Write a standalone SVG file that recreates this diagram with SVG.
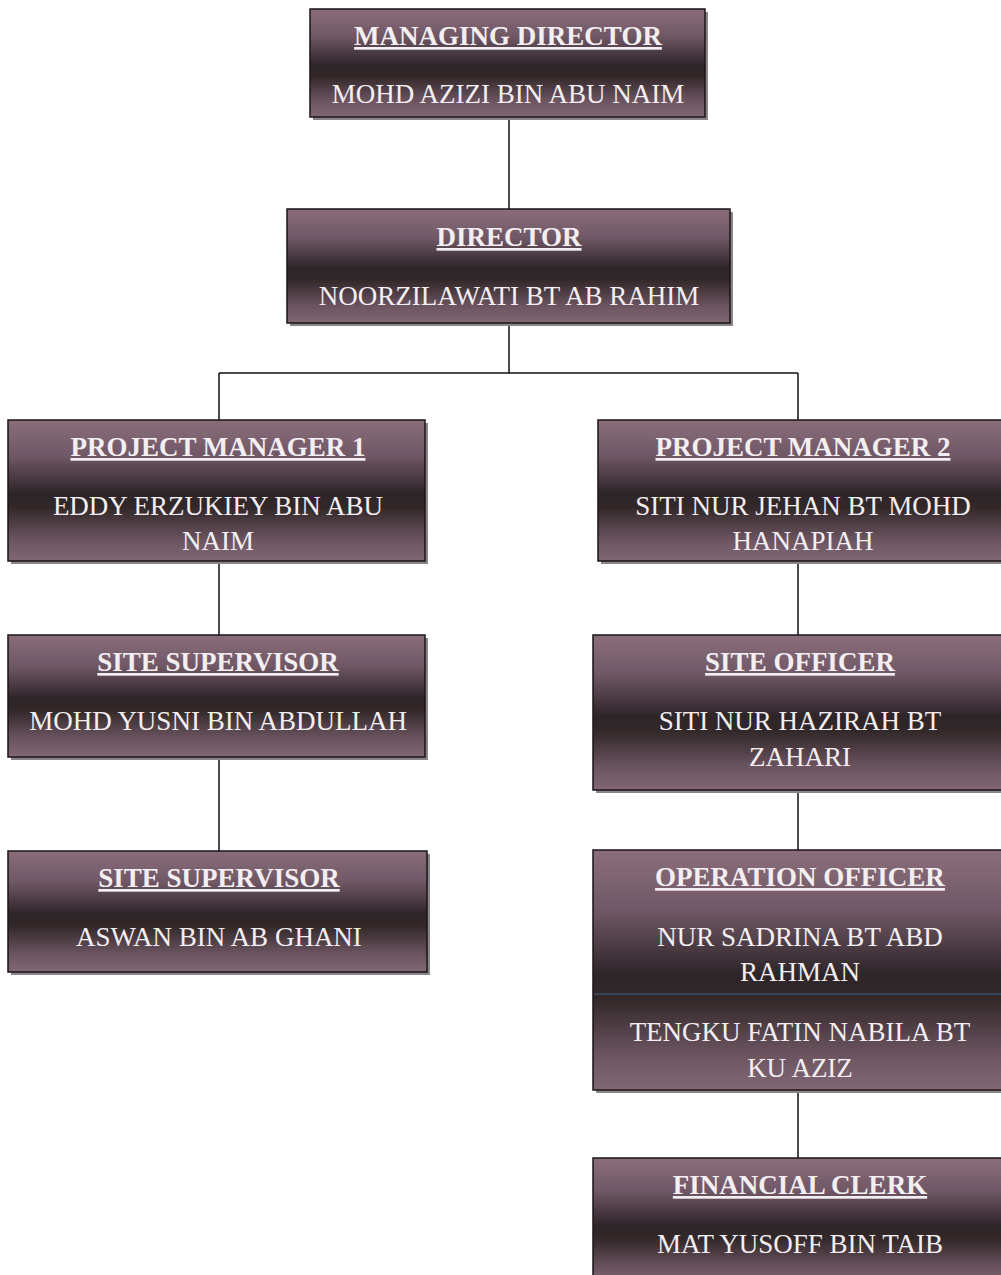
<svg xmlns="http://www.w3.org/2000/svg" width="1001" height="1275" viewBox="0 0 1001 1275">
<style>
.box{fill:url(#g);stroke:#1a1416;stroke-width:1.5}
.sh{fill:#8a8588}
.t{font-family:"Liberation Serif","Times New Roman",serif;font-size:27px;fill:#f3eef1;text-anchor:middle}
.h{font-weight:bold;text-decoration:underline}
.c{stroke:#111;stroke-width:1.5;fill:none}
</style>
<defs>
<linearGradient id="g" x1="0" y1="0" x2="0" y2="1">
<stop offset="0" stop-color="#8a6d7b"/>
<stop offset="0.25" stop-color="#715866"/>
<stop offset="0.52" stop-color="#2e2529"/>
<stop offset="0.62" stop-color="#322829"/>
<stop offset="0.85" stop-color="#6b5460"/>
<stop offset="1" stop-color="#826775"/>
</linearGradient>
</defs>
<g id="connectors">
<path class="c" d="M509 117V209"/>
<path class="c" d="M509 323V373M219 373H798M219 373V420M798 373V420"/>
<path class="c" d="M219 561V635M219 757V851"/>
<path class="c" d="M798 561V635M798 790V850M798 1090V1158"/>
</g>
<g id="managing-director">
<rect class="sh" x="313" y="12" width="395" height="108"/>
<rect class="box" x="310" y="9" width="395" height="108"/>
<text class="t h" x="508" y="45">MANAGING DIRECTOR</text>
<text class="t" x="508" y="103">MOHD AZIZI BIN ABU NAIM</text>
</g>
<g id="director">
<rect class="sh" x="290" y="212" width="443" height="114"/>
<rect class="box" x="287" y="209" width="443" height="114"/>
<text class="t h" x="509" y="246">DIRECTOR</text>
<text class="t" x="509" y="305">NOORZILAWATI BT AB RAHIM</text>
</g>
<g id="project-manager-1">
<rect class="sh" x="11" y="423" width="417" height="141"/>
<rect class="box" x="8" y="420" width="417" height="141"/>
<text class="t h" x="218" y="456">PROJECT MANAGER 1</text>
<text class="t" x="218" y="515">EDDY ERZUKIEY BIN ABU</text>
<text class="t" x="218" y="550">NAIM</text>
</g>
<g id="project-manager-2">
<rect class="sh" x="601" y="423" width="410" height="141"/>
<rect class="box" x="598" y="420" width="410" height="141"/>
<text class="t h" x="803" y="456">PROJECT MANAGER 2</text>
<text class="t" x="803" y="515">SITI NUR JEHAN BT MOHD</text>
<text class="t" x="803" y="550">HANAPIAH</text>
</g>
<g id="site-supervisor-1">
<rect class="sh" x="11" y="638" width="417" height="122"/>
<rect class="box" x="8" y="635" width="417" height="122"/>
<text class="t h" x="218" y="671">SITE SUPERVISOR</text>
<text class="t" x="218" y="730">MOHD YUSNI BIN ABDULLAH</text>
</g>
<g id="site-officer">
<rect class="sh" x="596" y="638" width="415" height="155"/>
<rect class="box" x="593" y="635" width="415" height="155"/>
<text class="t h" x="800" y="671">SITE OFFICER</text>
<text class="t" x="800" y="730">SITI NUR HAZIRAH BT</text>
<text class="t" x="800" y="766">ZAHARI</text>
</g>
<g id="site-supervisor-2">
<rect class="sh" x="11" y="854" width="419" height="121"/>
<rect class="box" x="8" y="851" width="419" height="121"/>
<text class="t h" x="219" y="887">SITE SUPERVISOR</text>
<text class="t" x="219" y="946">ASWAN BIN AB GHANI</text>
</g>
<g id="operation-officer">
<rect class="sh" x="596" y="853" width="415" height="240"/>
<rect class="box" x="593" y="850" width="415" height="240"/>
<line x1="594" y1="994" x2="1001" y2="994" stroke="#3d6f9a" stroke-width="2" opacity="0.45"/>
<text class="t h" x="800" y="886">OPERATION OFFICER</text>
<text class="t" x="800" y="946">NUR SADRINA BT ABD</text>
<text class="t" x="800" y="981">RAHMAN</text>
<text class="t" x="800" y="1041">TENGKU FATIN NABILA BT</text>
<text class="t" x="800" y="1077">KU AZIZ</text>
</g>
<g id="financial-clerk">
<rect class="sh" x="596" y="1161" width="415" height="130"/>
<rect class="box" x="593" y="1158" width="415" height="130"/>
<text class="t h" x="800" y="1194">FINANCIAL CLERK</text>
<text class="t" x="800" y="1253">MAT YUSOFF BIN TAIB</text>
</g>
</svg>
